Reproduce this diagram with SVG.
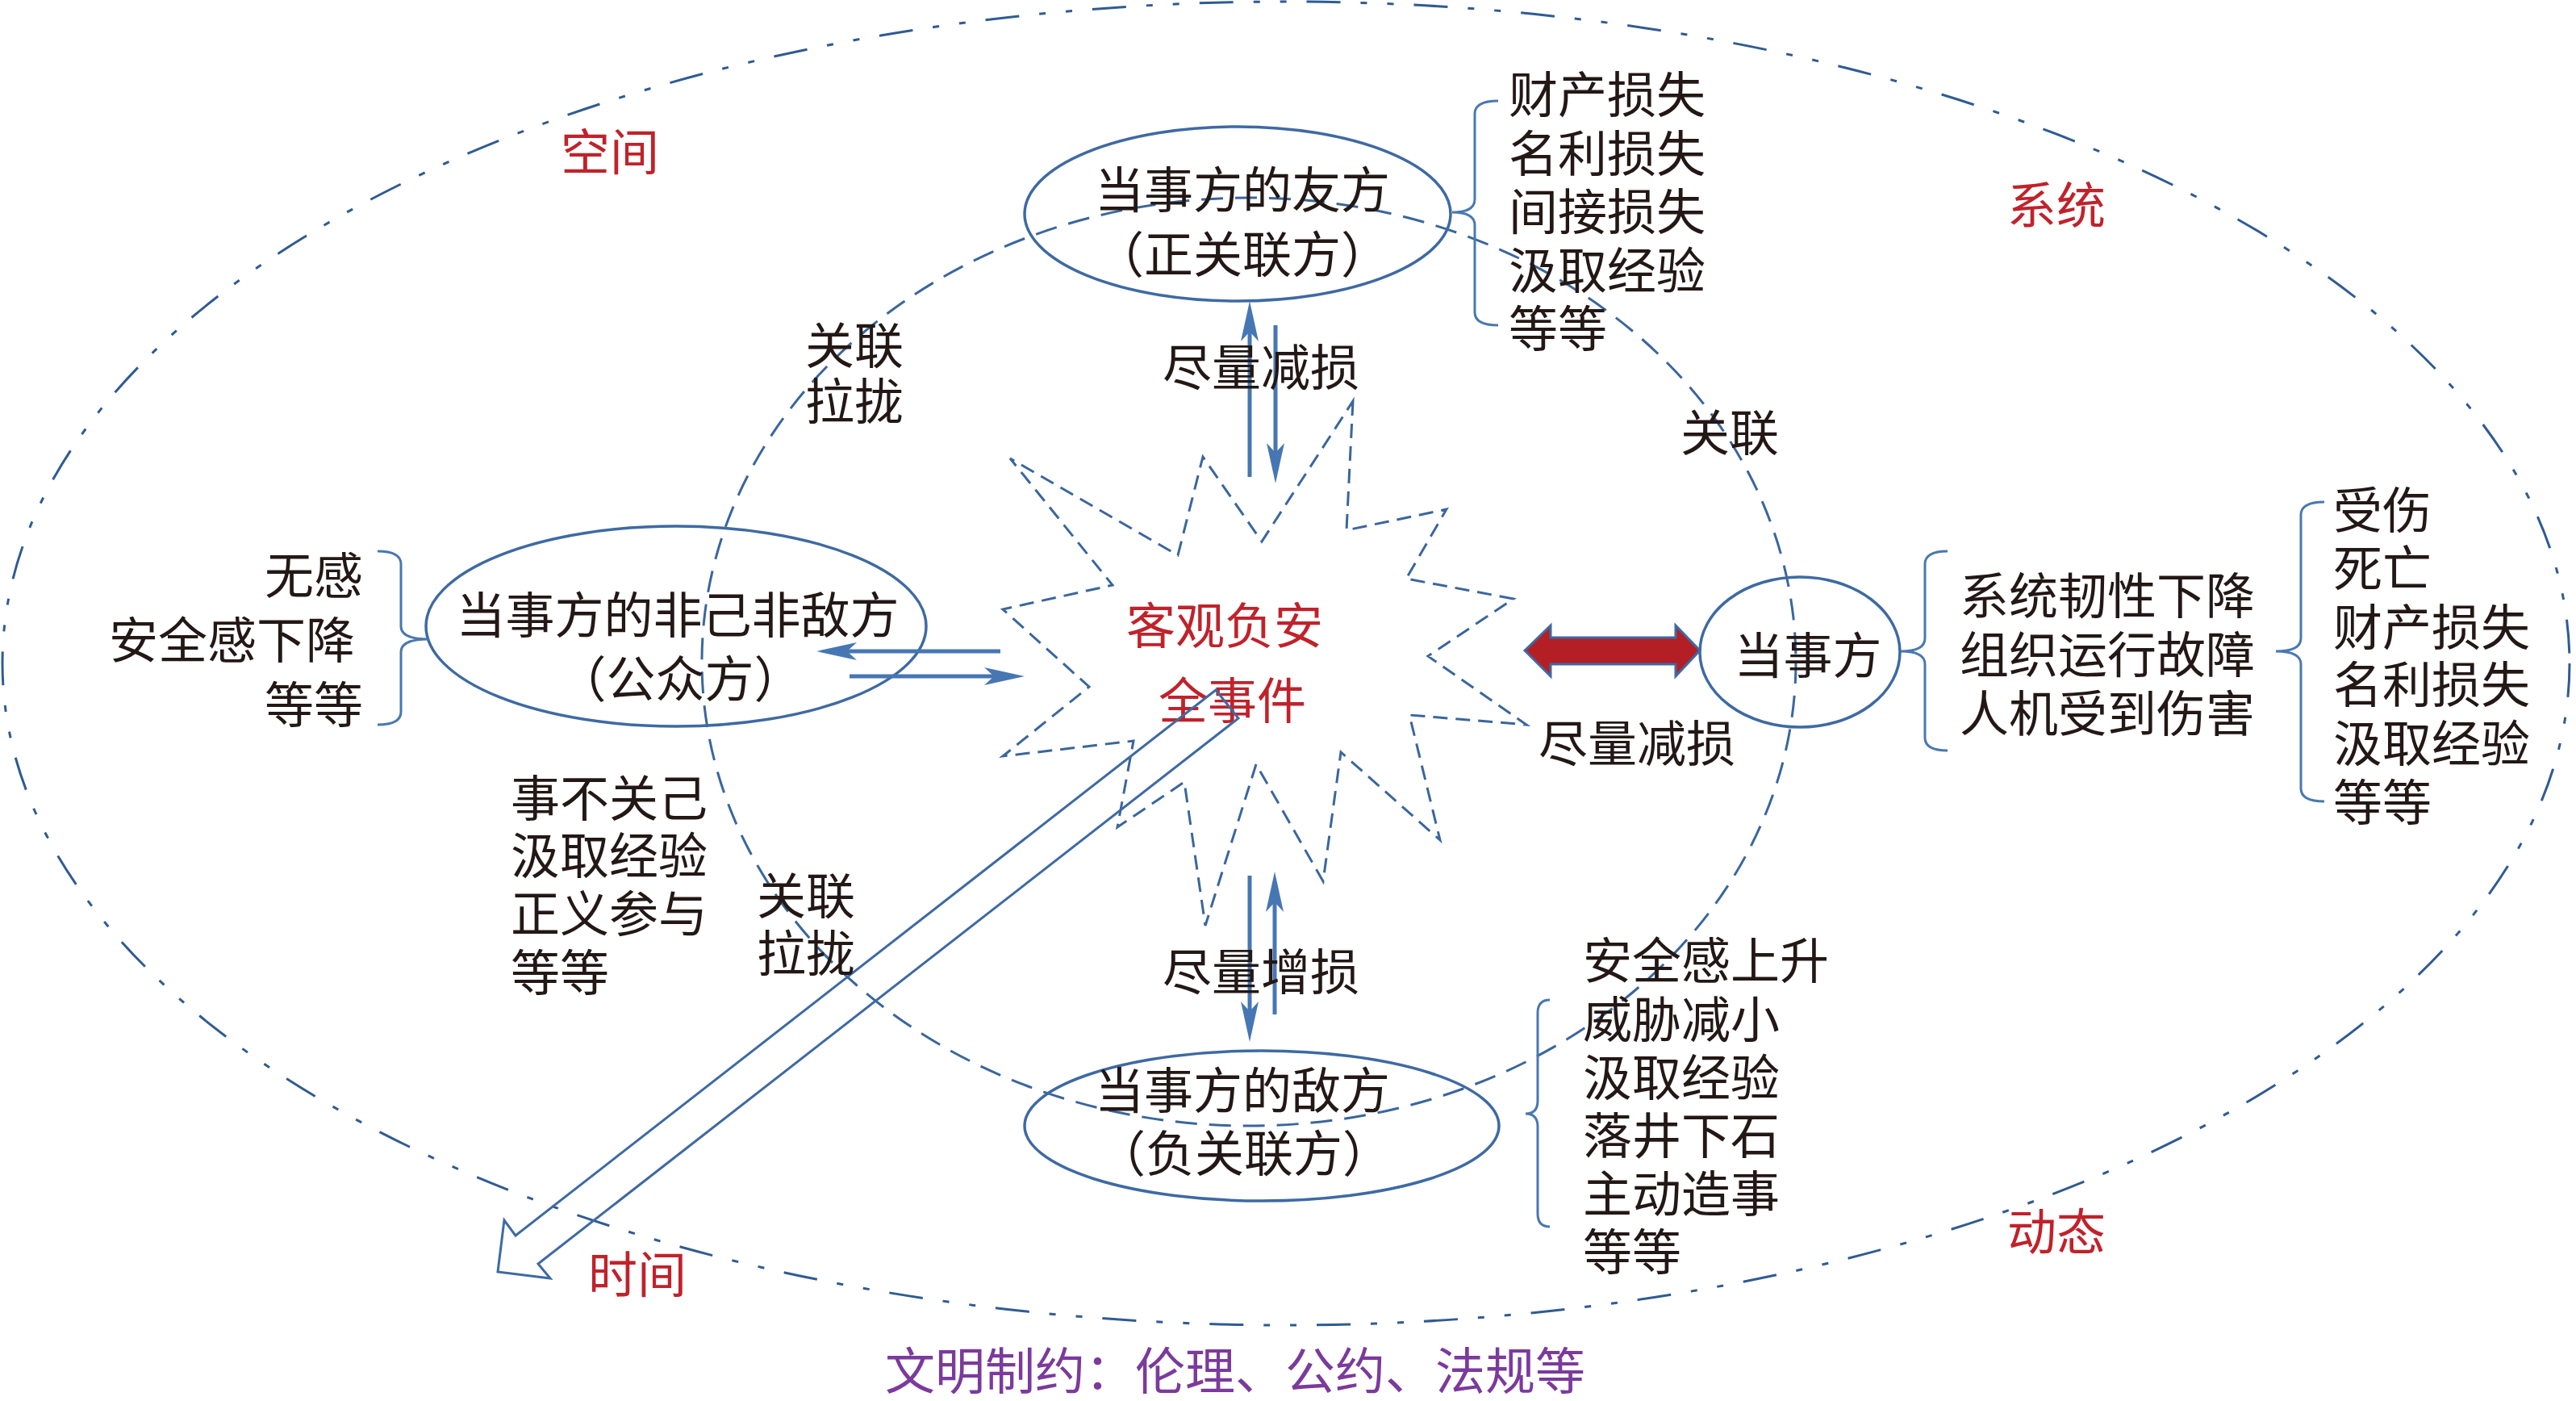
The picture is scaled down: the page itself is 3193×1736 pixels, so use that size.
<svg xmlns="http://www.w3.org/2000/svg" width="3193" height="1736" viewBox="0 0 3193 1736">
<style>
text{font-family:"Liberation Sans","Noto Sans CJK SC",sans-serif;font-size:61px;fill:#231815}
.red{fill:#C0222B}
.pur{fill:#7B3A9C;font-size:62px}
.node{fill:none;stroke:#3E6AA3;stroke-width:3.5}
.brace{fill:none;stroke:#4A78B0;stroke-width:3}
.arr{stroke:#4677B3;stroke-width:5;fill:none}
.outer{fill:none;stroke:#2F5B93;stroke-width:3;stroke-dasharray:42 25 8 25 8 25}
.inner{fill:none;stroke:#3A669E;stroke-width:3;stroke-dasharray:27 15}
.star{fill:none;stroke:#3A669E;stroke-width:3;stroke-dasharray:18 10}
</style>
<defs>
<marker id="ah" viewBox="-52 -13 54 26" refX="-30" refY="0" markerWidth="54" markerHeight="26" markerUnits="userSpaceOnUse" orient="auto">
<path d="M0,0 L-50,-11 L-38,0 L-50,11 Z" fill="#4677B3"/>
</marker>
</defs>
<rect width="3193" height="1736" fill="#ffffff"/>

<g id="frame">
<ellipse class="outer" cx="1594" cy="822" rx="1591" ry="820"/>
<ellipse class="inner" cx="1548" cy="820" rx="678" ry="575"/>
<text class="red" x="695" y="211">空间</text>
<text class="red" x="2488" y="277">系统</text>
<text class="red" x="2488" y="1549">动态</text>
<text class="red" x="729" y="1602">时间</text>
<text class="pur" x="1097" y="1722">文明制约：伦理、公约、法规等</text>
</g>

<g id="event">
<polygon class="star" points="1677,497 1669,657 1793,631 1743,717 1876,742 1770,813 1892,898 1747,886 1785,1041 1662,932 1640,1092 1557,947 1494,1147 1468,969 1385,1025 1405,918 1243,937 1350,851 1243,755 1379,725 1252,568 1460,688 1491,566 1564,671"/>
<text class="red" x="1396" y="798">客观负安</text>
<text class="red" x="1436" y="891">全事件</text>
</g>

<g id="friend">
<ellipse class="node" cx="1534" cy="265" rx="264" ry="108"/>
<text x="1540" y="258" text-anchor="middle">当事方的友方</text>
<text x="1540" y="338" text-anchor="middle">（正关联方）</text>
<path class="brace" d="M1857,125 Q1828,125 1828,141 L1828,247 Q1828,263 1800,263 Q1828,263 1828,279 L1828,387 Q1828,403 1857,403"/>
<text x="1870" y="140">财产损失</text>
<text x="1870" y="213">名利损失</text>
<text x="1870" y="285">间接损失</text>
<text x="1870" y="358">汲取经验</text>
<text x="1870" y="430">等等</text>
</g>

<g id="public">
<ellipse class="node" cx="838" cy="776" rx="310" ry="124"/>
<text x="840" y="785" text-anchor="middle">当事方的非己非敌方</text>
<text x="843" y="864" text-anchor="middle">（公众方）</text>
<path class="brace" d="M468,683 Q497,683 497,699 L497,776 Q497,792 531,792 Q497,792 497,808 L497,882 Q497,898 468,898"/>
<text x="450" y="736" text-anchor="end">无感</text>
<text x="440" y="816" text-anchor="end">安全感下降</text>
<text x="450" y="896" text-anchor="end">等等</text>
<text x="633" y="1012">事不关己</text>
<text x="633" y="1083">汲取经验</text>
<text x="633" y="1155">正义参与</text>
<text x="633" y="1228">等等</text>
</g>

<g id="party">
<ellipse class="node" cx="2231" cy="808" rx="124" ry="93"/>
<text x="2241" y="835" text-anchor="middle">当事方</text>
<path class="brace" d="M2414,683 Q2386,683 2386,699 L2386,791 Q2386,807 2356,807 Q2386,807 2386,823 L2386,914 Q2386,930 2414,930"/>
<text x="2429" y="761">系统韧性下降</text>
<text x="2429" y="834">组织运行故障</text>
<text x="2429" y="907">人机受到伤害</text>
<path class="brace" d="M2881,622 Q2852,622 2852,638 L2852,791 Q2852,807 2821,807 Q2852,807 2852,823 L2852,977 Q2852,993 2881,993"/>
<text x="2892" y="655">受伤</text>
<text x="2892" y="727">死亡</text>
<text x="2892" y="800">财产损失</text>
<text x="2892" y="871">名利损失</text>
<text x="2892" y="944">汲取经验</text>
<text x="2892" y="1017">等等</text>
</g>

<g id="enemy">
<ellipse class="node" cx="1564" cy="1395" rx="294" ry="93"/>
<text x="1540" y="1374" text-anchor="middle">当事方的敌方</text>
<text x="1542" y="1452" text-anchor="middle">（负关联方）</text>
<path class="brace" d="M1921,1239 Q1906,1239 1906,1255 L1906,1364 Q1906,1380 1891,1380 Q1906,1380 1906,1396 L1906,1504 Q1906,1520 1921,1520"/>
<text x="1962" y="1213">安全感上升</text>
<text x="1962" y="1286">威胁减小</text>
<text x="1962" y="1358">汲取经验</text>
<text x="1962" y="1430">落井下石</text>
<text x="1962" y="1502">主动造事</text>
<text x="1962" y="1574">等等</text>
</g>

<g id="connectors">
<line class="arr" x1="1549" y1="591" x2="1549" y2="403" marker-end="url(#ah)"/>
<line class="arr" x1="1581" y1="403" x2="1581" y2="569" marker-end="url(#ah)"/>
<line class="arr" x1="1240" y1="807" x2="1042" y2="807" marker-end="url(#ah)"/>
<line class="arr" x1="1053" y1="838" x2="1240" y2="838" marker-end="url(#ah)"/>
<line class="arr" x1="1549" y1="1085" x2="1549" y2="1261" marker-end="url(#ah)"/>
<line class="arr" x1="1580" y1="1257" x2="1580" y2="1110" marker-end="url(#ah)"/>
<polygon points="1890,806 1922,775 1922,790 2077,790 2077,775 2107,806 2077,838 2077,823 1922,823 1922,838" fill="#B31F25" stroke="#3E6AA3" stroke-width="3" stroke-linejoin="miter"/>
<polygon points="1507,855 639,1531 625,1512 617,1576 682,1584 667,1566 1535,890" fill="none" stroke="#3E6AA3" stroke-width="3"/>
<text x="1441" y="478">尽量减损</text>
<text x="1907" y="944">尽量减损</text>
<text x="1441" y="1227">尽量增损</text>
<text x="2083" y="559">关联</text>
<text x="998" y="451">关联</text>
<text x="998" y="520">拉拢</text>
<text x="938" y="1133">关联</text>
<text x="938" y="1204">拉拢</text>
</g>
</svg>
